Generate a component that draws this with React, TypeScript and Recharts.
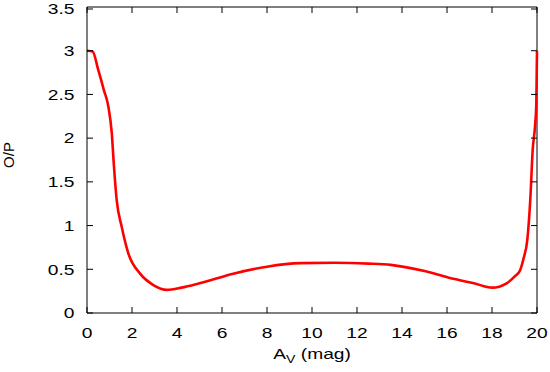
import { LineChart, Line, XAxis, YAxis, ReferenceLine } from 'recharts'

// O/P ratio vs. visual extinction
const av = [
  0, 0.25, 0.5, 0.75, 0.95, 1.1, 1.2, 1.32, 1.54, 1.84, 2.36, 2.95, 3.55, 4.2, 5.0,
  6.5, 8.0, 9.5, 11.0, 12.5, 13.5, 15.0, 16.4, 17.2, 18.0, 18.65, 19.0, 19.25, 19.4,
  19.57, 19.7, 19.81, 19.91, 19.97, 20,
]
const op = [
  3.0, 2.99, 2.78, 2.55, 2.36, 2.06, 1.67, 1.29, 0.99, 0.68, 0.45, 0.32, 0.265, 0.29, 0.34,
  0.45, 0.53, 0.57, 0.575, 0.565, 0.55, 0.48, 0.385, 0.34, 0.29, 0.34, 0.415, 0.49, 0.62,
  0.84, 1.29, 1.87, 2.13, 2.4, 3.0,
]
const xTicks = [0, 2, 4, 6, 8, 10, 12, 14, 16, 18, 20]
const yTicks = [0, 0.5, 1, 1.5, 2, 2.5, 3, 3.5]

const data = av.map((x, i) => ({ av: x, op: op[i] }))

const W = 550
const H = 372
const M = { top: 7, right: 13, left: 0, bottom: 0 }
const FS = 15
const STRETCH = 1.28 // gnuplot's font is wider than Arial
const TICK = 6
const GAP = 10

function BottomTick(props: any) {
  const { x, y, payload } = props
  const axisY = y - GAP
  return (
    <g>
      <line x1={x} x2={x} y1={axisY} y2={axisY - TICK} stroke="black" />
      <line x1={x} x2={x} y1={M.top} y2={M.top + TICK} stroke="black" />
      <g transform={`translate(${x},${axisY + 25}) scale(${STRETCH},1)`}>
        <text x={0} y={0} textAnchor="middle" fontSize={FS} fill="black">
          {payload.value}
        </text>
      </g>
    </g>
  )
}

function LeftTick(props: any) {
  const { x, y, payload } = props
  const axisX = x + GAP
  const right = W - M.right
  return (
    <g>
      <line x1={axisX} x2={axisX + TICK} y1={y} y2={y} stroke="black" />
      <line x1={right} x2={right - TICK} y1={y} y2={y} stroke="black" />
      <g transform={`translate(${axisX - 12.5},${y + 5.3}) scale(${STRETCH},1)`}>
        <text x={0} y={0} textAnchor="end" fontSize={FS} fill="black">
          {payload.value}
        </text>
      </g>
    </g>
  )
}

const XLabel = (props: any) => {
  const { viewBox } = props
  const cx = viewBox.x + viewBox.width / 2
  return (
    <g transform={`translate(${cx},359) scale(${STRETCH},1)`}>
      <text x={-30.3} y={0} fontSize={FS} fill="black">A</text>
      <text x={-20.3} y={3.5} fontSize={11} fill="black">V</text>
      <text x={-8.8} y={0} fontSize={FS} fill="black">(mag)</text>
    </g>
  )
}

const YLabel = (props: any) => {
  const { viewBox } = props
  const cy = viewBox.y + viewBox.height / 2 - 5
  return (
    <text
      x={14}
      y={cy}
      transform={`rotate(-90, 14, ${cy})`}
      textAnchor="middle"
      fontSize={FS}
      fill="black"
    >
      O/P
    </text>
  )
}

export default function App() {
  return (
    <div style={{ position: 'absolute', left: 0, top: 0, fontFamily: 'Liberation Sans, Arial, sans-serif' }}>
      <LineChart width={W} height={H} data={data} margin={M}>
        <XAxis
          dataKey="av"
          type="number"
          domain={[0, 20]}
          ticks={xTicks}
          height={59}
          tickSize={0}
          tickMargin={GAP}
          stroke="black"
          tick={<BottomTick />}
          label={<XLabel />}
        />
        <YAxis
          type="number"
          domain={[0, 3.5]}
          ticks={yTicks}
          width={87}
          tickSize={0}
          tickMargin={GAP}
          stroke="black"
          tick={<LeftTick />}
          label={<YLabel />}
        />
        <ReferenceLine y={3.5} stroke="black" />
        <ReferenceLine x={20} stroke="black" />
        <Line
          type="monotone"
          dataKey="op"
          stroke="#ff0000"
          strokeWidth={2.6}
          dot={false}
          isAnimationActive={false}
        />
      </LineChart>
    </div>
  )
}
